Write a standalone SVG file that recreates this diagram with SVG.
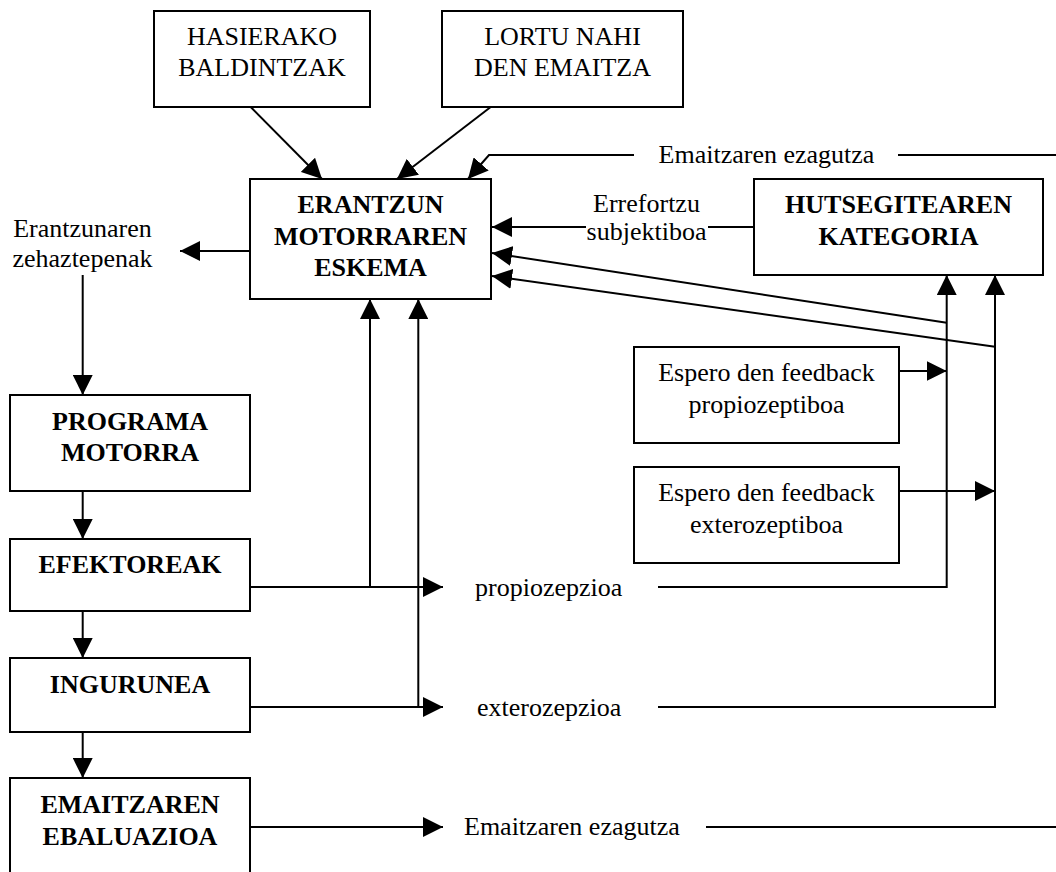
<svg xmlns="http://www.w3.org/2000/svg" width="1056" height="872" viewBox="0 0 1056 872">
<defs>
<marker id="ah" markerUnits="userSpaceOnUse" markerWidth="20" markerHeight="20" refX="20" refY="10" orient="auto" viewBox="0 0 20 20">
<path d="M0,0 L20,10 L0,20 z" fill="#000"/>
</marker>
<style>
rect{fill:#fff;stroke:#000;stroke-width:2}
text{font-family:"Liberation Serif","Times New Roman",serif;font-size:26px;fill:#000}
.c{text-anchor:middle}
.b{font-weight:bold}
#connectors path,#connectors line,#connectors polyline{fill:none;stroke:#000;stroke-width:2}
.a{marker-end:url(#ah)}
</style>
</defs>
<rect x="0" y="0" width="1056" height="872" style="fill:#fff;stroke:none"/>
<g id="connectors">
<line class="a" x1="250.7" y1="107" x2="322" y2="179"/>
<line class="a" x1="490.7" y1="107" x2="397" y2="179"/>
<line x1="1056" y1="155" x2="898" y2="155"/>
<polyline class="a" points="634,155 489,155 468,179"/>
<line x1="754" y1="227" x2="708" y2="227"/>
<line class="a" x1="586" y1="227" x2="492" y2="227"/>
<line class="a" x1="946.7" y1="322.7" x2="492" y2="253"/>
<line class="a" x1="995" y1="346.7" x2="492" y2="276"/>
<line class="a" x1="250" y1="251" x2="180" y2="251"/>
<line class="a" x1="82.7" y1="275" x2="82.7" y2="395"/>
<line class="a" x1="82.7" y1="491" x2="82.7" y2="539"/>
<line class="a" x1="82.7" y1="611" x2="82.7" y2="658"/>
<line class="a" x1="82.7" y1="732" x2="82.7" y2="778"/>
<line class="a" x1="250" y1="587" x2="443" y2="587"/>
<line class="a" x1="370" y1="587" x2="370" y2="299"/>
<line class="a" x1="250" y1="707" x2="443" y2="707"/>
<line class="a" x1="418.3" y1="707" x2="418.3" y2="299"/>
<line class="a" x1="250" y1="827" x2="443" y2="827"/>
<line x1="706" y1="827" x2="1056" y2="827"/>
<polyline class="a" points="658,587 946.7,587 946.7,275"/>
<polyline class="a" points="658,707 995,707 995,275"/>
<line class="a" x1="899" y1="371" x2="946.7" y2="371"/>
<line class="a" x1="899" y1="491" x2="995" y2="491"/>
</g>
<g id="labels">
<text x="766.5" y="163" class="c">Emaitzaren ezagutza</text>
<text x="646.5" y="212" class="c">Errefortzu</text>
<text x="646.5" y="240" class="c">subjektiboa</text>
<text x="82.5" y="236.5" class="c">Erantzunaren</text>
<text x="82.5" y="267" class="c">zehaztepenak</text>
<text x="475" y="596">propiozepzioa</text>
<text x="477" y="716">exterozepzioa</text>
<text x="464" y="835">Emaitzaren ezagutza</text>
</g>
<g id="hasierako">
<rect x="154" y="11" width="216" height="96"/>
<text x="262" y="45" class="c">HASIERAKO</text>
<text x="262" y="76" class="c">BALDINTZAK</text>
</g>
<g id="lortu">
<rect x="442" y="11" width="241" height="96"/>
<text x="562.5" y="45" class="c">LORTU NAHI</text>
<text x="562.5" y="76" class="c">DEN EMAITZA</text>
</g>
<g id="erantzun">
<rect x="250" y="179" width="241" height="120"/>
<text x="370.5" y="213" class="c b">ERANTZUN</text>
<text x="370.5" y="244.5" class="c b">MOTORRAREN</text>
<text x="370.5" y="276" class="c b">ESKEMA</text>
</g>
<g id="hutsegitearen">
<rect x="754" y="179" width="289" height="96"/>
<text x="898.5" y="213" class="c b">HUTSEGITEAREN</text>
<text x="898.5" y="245" class="c b">KATEGORIA</text>
</g>
<g id="feedback-propio">
<rect x="634" y="347" width="265" height="96"/>
<text x="766.5" y="381" class="c">Espero den feedback</text>
<text x="766.5" y="413" class="c">propiozeptiboa</text>
</g>
<g id="feedback-extero">
<rect x="634" y="467" width="265" height="96"/>
<text x="766.5" y="501" class="c">Espero den feedback</text>
<text x="766.5" y="533" class="c">exterozeptiboa</text>
</g>
<g id="programa">
<rect x="10" y="395" width="240" height="96"/>
<text x="130" y="430" class="c b">PROGRAMA</text>
<text x="130" y="461" class="c b">MOTORRA</text>
</g>
<g id="efektoreak">
<rect x="10" y="539" width="240" height="72"/>
<text x="130" y="573" class="c b">EFEKTOREAK</text>
</g>
<g id="ingurunea">
<rect x="10" y="658" width="240" height="74"/>
<text x="130" y="693" class="c b">INGURUNEA</text>
</g>
<g id="emaitzaren-ebaluazioa">
<rect x="10" y="778" width="240" height="110"/>
<text x="130" y="813" class="c b">EMAITZAREN</text>
<text x="130" y="845" class="c b">EBALUAZIOA</text>
</g>
</svg>
